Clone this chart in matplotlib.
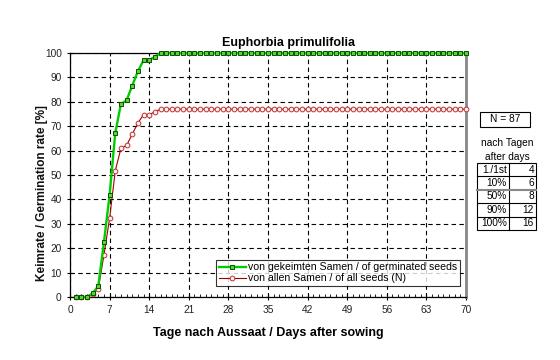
import matplotlib
matplotlib.use("Agg")
import matplotlib.pyplot as plt
from matplotlib.ticker import MultipleLocator
from matplotlib.patches import Rectangle
from matplotlib.lines import Line2D

plt.rcParams['font.family'] = ['Liberation Sans', 'DejaVu Sans']

days = list(range(1, 71))
germ_early = [0, 0, 0, 1.5, 4.5, 22.4, 41.8, 67.2, 79.1, 80.6, 86.6, 92.5, 97.0, 97.0, 98.5]
all_early = [0, 0, 0, 1.1, 3.4, 17.2, 32.2, 51.7, 60.9, 62.1, 66.7, 71.3, 74.7, 74.7, 75.9]
germinated = germ_early + [100.0] * (70 - len(germ_early))
all_seeds = all_early + [77.0] * (70 - len(all_early))

title = "Euphorbia primulifolia"
xlabel = "Tage nach Aussaat / Days after sowing"
ylabel = "Keimrate / Germination rate [%]"
label_germ = "von gekeimten Samen / of germinated seeds"
label_all = "von allen Samen / of all seeds (N)"
n_text = "N = 87"
table_head = ["nach Tagen", "after days"]
table_keys = ["1./1st", "10%", "50%", "90%", "100%"]
table_vals = ["4", "6", "8", "12", "16"]

fig = plt.figure(figsize=(5.6, 3.6), dpi=100)
ax = fig.add_axes([70/560, 1-297/360, (466-70)/560, (297-53)/360])

ax.plot(days, germinated, color='#00CC00', lw=1.7, marker='s', ms=3.4,
        mfc='#66CC33', mec='#005500', mew=0.7, label=label_germ, zorder=4, clip_on=False)
ax.plot(days, all_seeds, color='#A00000', lw=0.8, marker='o', ms=3.4,
        mfc='#FFF0F0', mec='#C03030', mew=0.7, label=label_all, zorder=3, clip_on=False)

ax.set_xlim(0, 70)
ax.set_ylim(0, 100)
ax.xaxis.set_major_locator(MultipleLocator(7))
ax.xaxis.set_minor_locator(MultipleLocator(1))
ax.yaxis.set_major_locator(MultipleLocator(10))
ax.tick_params(axis='both', which='major', direction='inout', length=5, width=0.8,
               labelsize=7.3, colors='black', labelcolor='#222222')
ax.tick_params(axis='x', which='minor', direction='in', length=2.5, width=0.6)
ax.tick_params(axis='x', which='major', pad=3)
ax.grid(True, which='major', color='black', ls=(0, (4, 3)), lw=0.8)
for s in ['left', 'bottom', 'top']:
    ax.spines[s].set_color('black')
    ax.spines[s].set_linewidth(0.9)
ax.spines['right'].set_color('#888888')
ax.spines['right'].set_linewidth(2)

leg = ax.legend(loc='lower right', bbox_to_anchor=((460-70)/396, (297-286)/244),
                fontsize=7.6, frameon=True, fancybox=False, edgecolor='black',
                handlelength=2.6, handletextpad=0.2, borderpad=0.25, labelspacing=0.1,
                borderaxespad=0)
leg.get_frame().set_linewidth(0.8)

fig.text(288/560, 1-43/360, title, ha='center', va='center', fontsize=9, fontweight='bold')
fig.text(268/560, 1-333/360, xlabel, ha='center', va='center', fontsize=9, fontweight='bold')
fig.text(42/560, 1-193/360, ylabel, ha='center', va='center', rotation=90, fontsize=8.5,
         fontweight='bold', color='#111111')

W, H = 560, 360
def fx(x):
    return x / W
def fy(y):
    return 1 - y / H

# N box
fig.patches.append(Rectangle((fx(480), fy(127)), 50/W, 15/H, transform=fig.transFigure,
                             fill=False, ec='black', lw=0.8))
fig.text(fx(505), fy(119.5), n_text, ha='center', va='center', fontsize=7.3)
fig.text(fx(507), fy(143), table_head[0], ha='center', va='center', fontsize=7.3)
fig.text(fx(507), fy(157), table_head[1], ha='center', va='center', fontsize=7.3)

tx0, tx1, tx2 = 477, 509, 536
ty0 = 163
rh = 13.4
nrows = len(table_keys)
fig.patches.append(Rectangle((fx(tx0), fy(ty0 + rh*nrows)), (tx2-tx0)/W, rh*nrows/H,
                             transform=fig.transFigure, fill=False, ec='black', lw=0.8))
fig.lines.append(Line2D([fx(tx1), fx(tx1)], [fy(ty0), fy(ty0 + rh*nrows)],
                        transform=fig.transFigure, color='black', lw=0.8))
for i in range(1, nrows):
    col = '#888888' if i == 2 else 'black'
    lw = 1.5 if i == 2 else 0.8
    fig.lines.append(Line2D([fx(tx0), fx(tx2)], [fy(ty0 + rh*i)]*2,
                            transform=fig.transFigure, color=col, lw=lw))
for i, (k, v) in enumerate(zip(table_keys, table_vals)):
    yc = fy(ty0 + rh*(i + 0.5))
    fig.text(fx(tx1 - 2), yc, k, ha='right', va='center', fontsize=7.3)
    fig.text(fx(tx2 - 2), yc, v, ha='right', va='center', fontsize=7.3)

fig.savefig('out.png', dpi=100, facecolor='white')
